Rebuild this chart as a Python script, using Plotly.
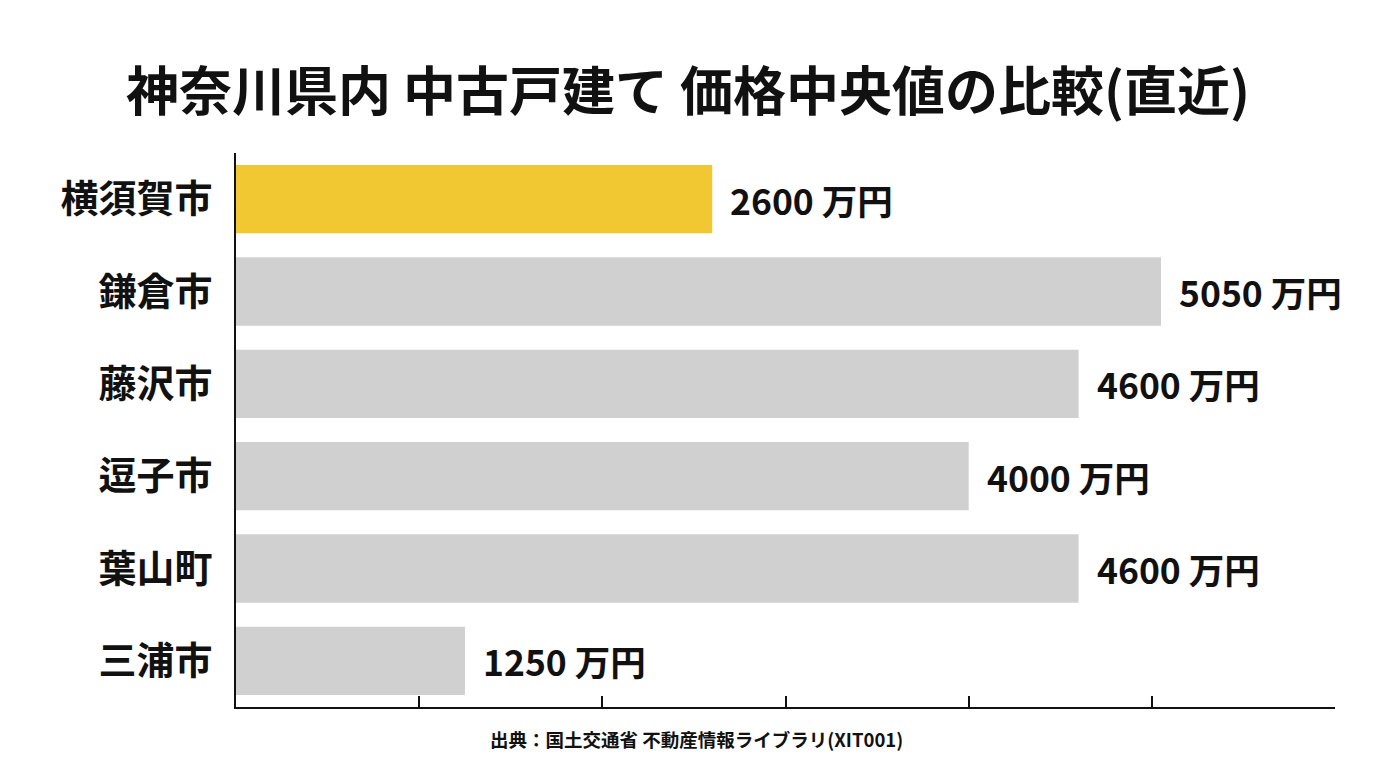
import plotly.graph_objects as go

categories = ["横須賀市", "鎌倉市", "藤沢市", "逗子市", "葉山町", "三浦市"]
values = [2600, 5050, 4600, 4000, 4600, 1250]
value_labels = ["2600 万円", "5050 万円", "4600 万円", "4000 万円", "4600 万円", "1250 万円"]
bar_colors = ["#F2C832", "#D0D0D0", "#D0D0D0", "#D0D0D0", "#D0D0D0", "#D0D0D0"]

FONT = "Noto Sans CJK JP"

fig = go.Figure(go.Bar(
    x=values, y=categories, orientation="h",
    marker=dict(color=bar_colors, line=dict(width=0)),
    hoverinfo="skip",
))

for c, v, t in zip(categories, values, value_labels):
    fig.add_annotation(x=v, y=c, text=f"<b>{t}</b>", showarrow=False,
                       xanchor="left", yanchor="middle", xshift=16,
                       font=dict(family=FONT, size=35.5, color="#111111"))

fig.add_annotation(xref="paper", yref="paper", x=(696 - 236) / 1099, y=-0.03, yanchor="top",
                   text="<b>出典：国土交通省 不動産情報ライブラリ(XIT001)</b>",
                   showarrow=False,
                   font=dict(family=FONT, size=18.5, color="#111111"))

fig.update_layout(
    width=1376, height=768,
    margin=dict(l=236, r=41, t=153, b=61),
    paper_bgcolor="white", plot_bgcolor="white",
    bargap=0.26,
    showlegend=False,
    title=dict(text="<b>神奈川県内 中古戸建て 価格中央値の比較(直近)</b>",
               x=0.5, xanchor="center", y=0.88, yanchor="middle",
               font=dict(family=FONT, size=53, color="#111111")),
    xaxis=dict(range=[0, 6000], dtick=1000, showticklabels=False,
               showgrid=False, zeroline=False,
               showline=True, linecolor="#111111", linewidth=2,
               ticks="inside", ticklen=11, tickwidth=2, tickcolor="#111111"),
    yaxis=dict(autorange="reversed", showgrid=False, zeroline=False,
               showline=True, linecolor="#111111", linewidth=2,
               ticks="", ticklabelstandoff=14,
               tickfont=dict(family=FONT, size=38, color="#111111")),
    font=dict(family=FONT),
)

fig.update_yaxes(tickvals=categories, ticktext=[f"<b>{c}</b>" for c in categories])

fig.write_html("out.html")
